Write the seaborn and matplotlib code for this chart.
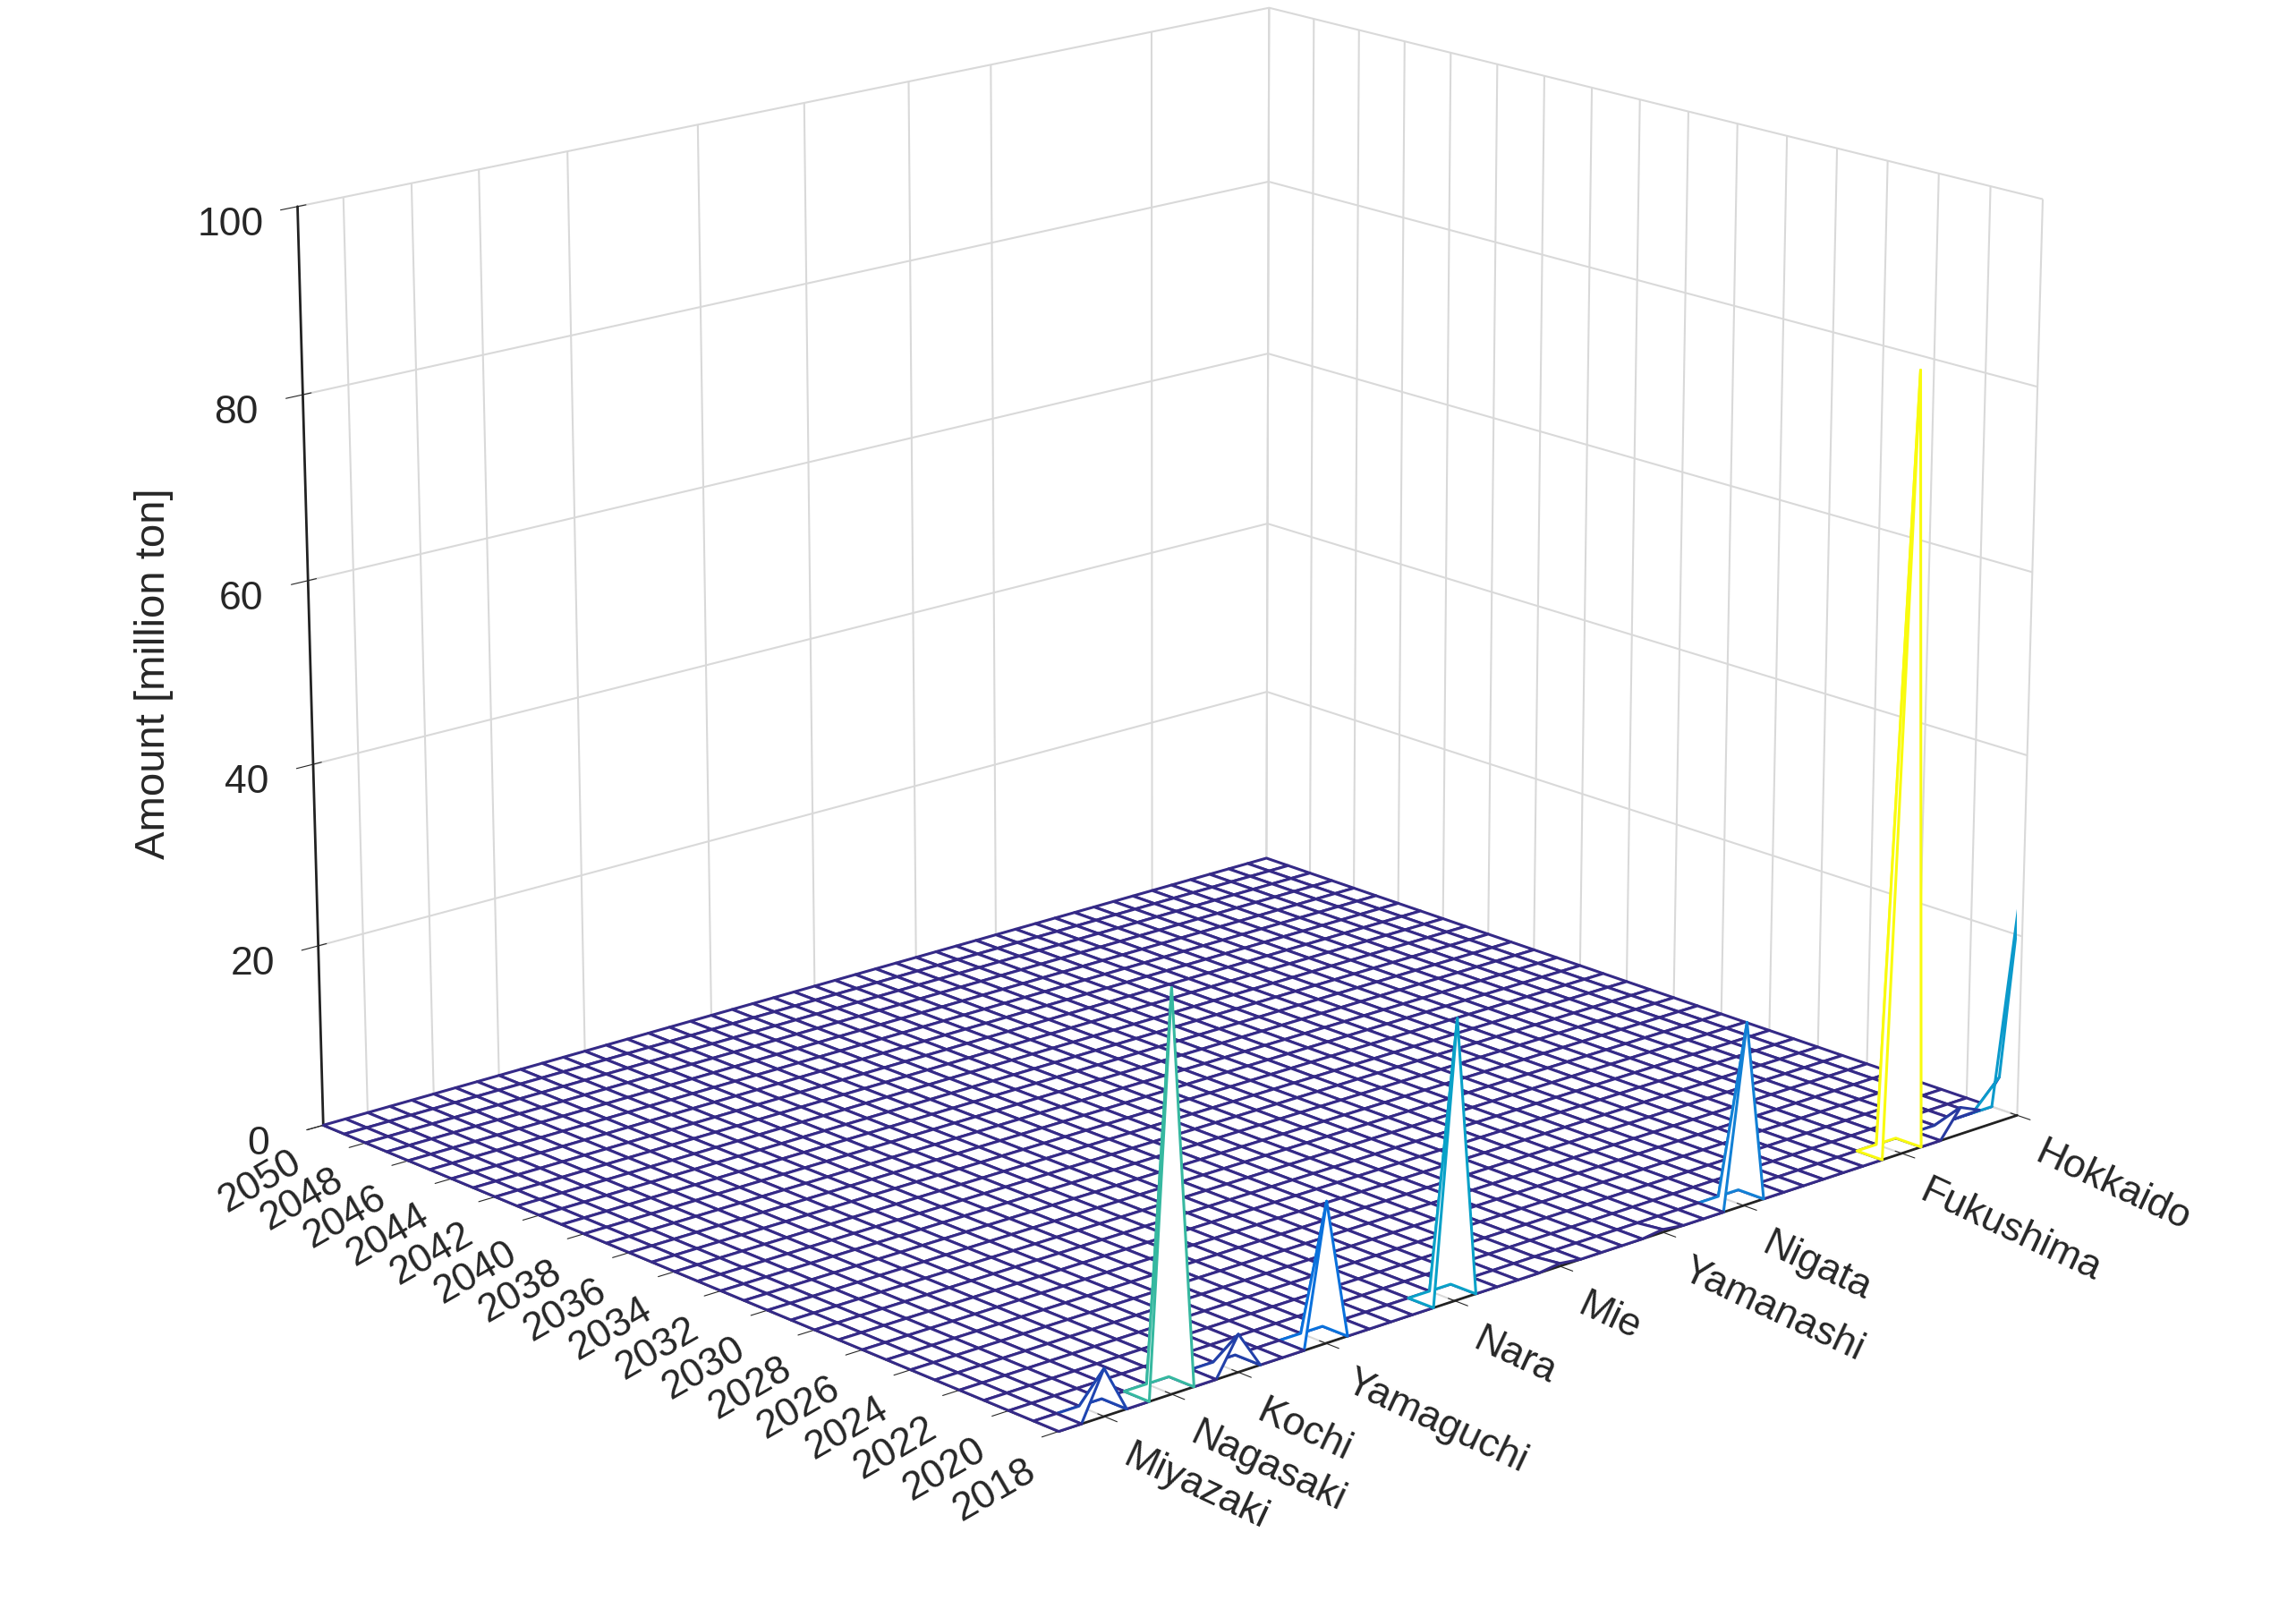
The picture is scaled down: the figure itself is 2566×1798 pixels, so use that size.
import numpy as np
import pandas as pd
import matplotlib
matplotlib.use('Agg')
import matplotlib.pyplot as plt
import seaborn as sns
from matplotlib.colors import LinearSegmentedColormap

sns.set_style('white')
plt.rcParams['font.family'] = ['Arial', 'Liberation Sans', 'DejaVu Sans']

# data: amount in 2018 per prefecture code (all later years are zero)
years = np.arange(2018, 2051)
pref_codes = np.arange(1, 48)
tick_codes = [1, 7, 15, 19, 24, 29, 35, 39, 42, 45]
tick_names = ['Hokkaido', 'Fukushima', 'Nigata', 'Yamanashi', 'Mie', 'Nara',
              'Yamaguchi', 'Kochi', 'Nagasaki', 'Miyazaki']
amount_2018 = {1: 28, 2: 5, 3: 2, 4: 3, 7: 85, 15: 20, 19: 0.3, 24: 0.3,
               29: 30, 35: 15, 39: 4, 42: 42, 45: 5}

Z = np.zeros((len(pref_codes), len(years)))
for code, v in amount_2018.items():
    Z[code - 1, 0] = v
X, Y = np.meshgrid(years, pref_codes)

parula = LinearSegmentedColormap.from_list('parula', [
    (0.208, 0.166, 0.529), (0.012, 0.388, 0.882), (0.078, 0.518, 0.831),
    (0.024, 0.655, 0.776), (0.220, 0.725, 0.620), (0.573, 0.749, 0.451),
    (0.851, 0.729, 0.337), (0.988, 0.808, 0.180), (0.976, 0.984, 0.055)])

fig = plt.figure(figsize=(25.66, 17.98), dpi=100)
ax = fig.add_axes([-0.03, 0.03, 1.06, 1.08], projection='3d')
surf = ax.plot_surface(X, Y, Z, rstride=1, cstride=1, color='white',
                       shade=False, linewidth=2.2, antialiased=True)
# colour each cell edge by its highest corner
zmax = np.maximum.reduce([Z[:-1, :-1], Z[1:, :-1], Z[:-1, 1:], Z[1:, 1:]]).ravel()
surf.set_edgecolors(parula(zmax / Z.max()))

ax.view_init(elev=17, azim=138)
ax.set_box_aspect((1.0, 1.15, 0.85), zoom=1.1)
ax.set_xlim(2018, 2050)
ax.set_ylim(1, 47)
ax.set_zlim(0, 100)
ax.zaxis.set_ticks_position('upper')
ax.zaxis.set_label_position('upper')
ax.set_xticks(np.arange(2018, 2051, 2))
ax.set_xticklabels([str(y) for y in range(2018, 2051, 2)], fontsize=32,
                   rotation=30, ha='right', va='top')
ax.set_yticks(tick_codes)
ax.set_yticklabels(tick_names, fontsize=32, rotation=-25, ha='left', va='top')
ax.tick_params(axis='y', pad=4)
ax.set_zticks(np.arange(0, 101, 20))
ax.tick_params(axis='z', labelsize=32, pad=20)
ax.zaxis.set_rotate_label(False)
ax.set_zlabel('Amount [million ton]', fontsize=34, labelpad=45, rotation=90)

for axis in (ax.xaxis, ax.yaxis, ax.zaxis):
    axis.set_pane_color((1, 1, 1, 1))
    axis._axinfo['grid']['color'] = (0.85, 0.85, 0.85, 1)
    axis._axinfo['grid']['linewidth'] = 1.5
    axis.line.set_color('#222222')
    axis.line.set_linewidth(2)
ax.grid(True)

fig.savefig('out.png', dpi=100)
